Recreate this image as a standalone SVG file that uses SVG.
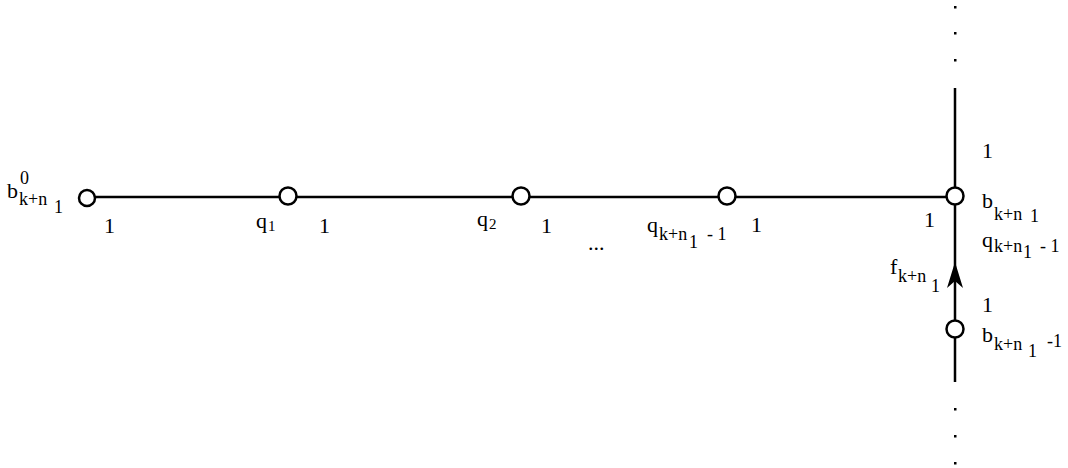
<svg xmlns="http://www.w3.org/2000/svg" width="1068" height="468" viewBox="0 0 1068 468">
<style>
.ln{stroke:#000;stroke-width:2.5;fill:none}
.nd{stroke:#000;stroke-width:2.5;fill:#fff}
.t{font-family:"Liberation Serif","Times New Roman",serif;font-size:22px;fill:#000}
.s{font-family:"Liberation Serif","Times New Roman",serif;font-size:18px;fill:#000}
.ss{font-family:"Liberation Serif","Times New Roman",serif;font-size:15px;fill:#000}
.dot{fill:#000}
</style>
<rect width="1068" height="468" fill="#fff"/>
<g id="connectors">
<line class="ln" x1="87" y1="197" x2="955" y2="197"/>
<line class="ln" x1="955" y1="88" x2="955" y2="382"/>
<path id="arrow" d="M955 262 L963 288 L955 281 L947 288 Z" fill="#000"/>
<rect class="dot" x="954" y="6" width="2.5" height="2.5"/>
<rect class="dot" x="954" y="32" width="2.5" height="2.5"/>
<rect class="dot" x="954" y="59" width="2.5" height="2.5"/>
<rect class="dot" x="954" y="408" width="2.5" height="2.5"/>
<rect class="dot" x="954" y="435" width="2.5" height="2.5"/>
<rect class="dot" x="954" y="462" width="2.5" height="2.5"/>
</g>
<g id="n0"><circle class="nd" cx="87" cy="198" r="8"/>
<text class="t" x="7" y="198">b</text><text class="s" x="20" y="184">0</text><text class="s" x="19" y="205">k+n</text><text class="s" x="54" y="213">1</text>
<text class="t" x="104" y="233">1</text></g>
<g id="n1"><circle class="nd" cx="288" cy="196" r="8.5"/>
<text class="t" x="256" y="228">q</text><text class="ss" x="268" y="231">1</text>
<text class="t" x="319" y="233">1</text></g>
<g id="n2"><circle class="nd" cx="521" cy="196" r="8.5"/>
<text class="t" x="477" y="226">q</text><text class="ss" x="489" y="229">2</text>
<text class="t" x="541" y="233">1</text></g>
<text class="t" x="588" y="250">...</text>
<g id="n3"><circle class="nd" cx="727" cy="196" r="8.5"/>
<text class="t" x="647" y="232">q</text><text class="s" x="659" y="240">k+n</text><text class="s" x="689" y="248">1</text><text class="s" x="707" y="240">- 1</text>
<text class="t" x="751" y="232">1</text></g>
<g id="n4"><circle class="nd" cx="955" cy="196" r="8.5"/>
<text class="t" x="924" y="227">1</text>
<text class="t" x="982" y="158">1</text>
<text class="t" x="982" y="208">b</text><text class="s" x="994" y="220">k+n</text><text class="s" x="1030" y="222">1</text>
<text class="t" x="982" y="247">q</text><text class="s" x="994" y="252">k+n</text><text class="s" x="1023" y="258">1</text><text class="s" x="1040" y="252">- 1</text>
<text class="t" x="890" y="274">f</text><text class="s" x="898" y="282">k+n</text><text class="s" x="931" y="292">1</text></g>
<g id="n5"><circle class="nd" cx="955" cy="329" r="8.5"/>
<text class="t" x="982" y="312">1</text>
<text class="t" x="982" y="342">b</text><text class="s" x="994" y="350">k+n</text><text class="s" x="1028" y="357">1</text><text class="s" x="1047" y="347">-1</text></g>
</svg>
